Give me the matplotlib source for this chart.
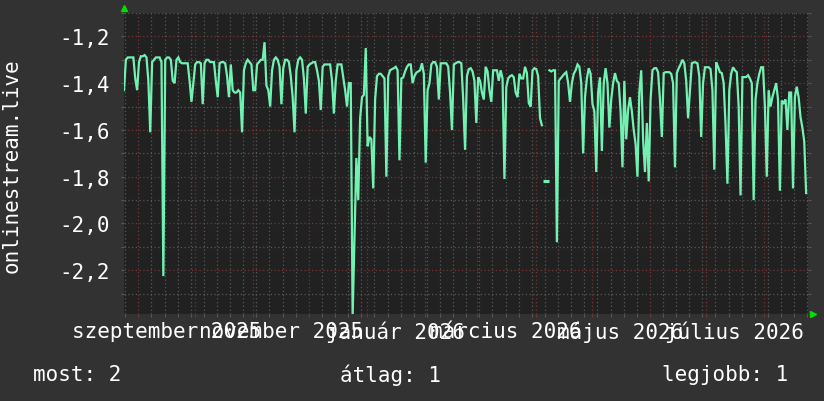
import matplotlib
matplotlib.use('Agg')
import matplotlib.pyplot as plt
import matplotlib.dates as mdates
import numpy as np
import pandas as pd

nan = np.nan

# napi értékek (onlinestream.live)
latency = [
    -1.43, -1.30, -1.29, -1.29, -1.29, -1.29, -1.38, -1.43, -1.31, -1.285,
    -1.285, -1.28, -1.29, -1.39, -1.61, -1.31, -1.30, -1.29, -1.29, -1.29,
    -1.31, -2.225, -1.30, -1.29, -1.29, -1.30, -1.39, -1.40, -1.30, -1.29,
    -1.31, -1.315, -1.315, -1.315, -1.315, -1.39, -1.48, -1.40, -1.32, -1.31,
    -1.31, -1.315, -1.49, -1.315, -1.30, -1.30, -1.31, -1.31, -1.31, -1.39,
    -1.46, -1.315, -1.31, -1.31, -1.315, -1.37, -1.46, -1.32, -1.43, -1.44,
    -1.44, -1.43, -1.44, -1.61, -1.345, -1.315, -1.30, -1.31, -1.32, -1.43,
    -1.43, -1.32, -1.31, -1.30, -1.30, -1.225, -1.41, -1.43, -1.50, -1.345,
    -1.30, -1.29, -1.30, -1.33, -1.49, -1.335, -1.30, -1.30, -1.31, -1.37,
    -1.46, -1.61, -1.345, -1.30, -1.29, -1.30, -1.38, -1.53, -1.33, -1.32,
    -1.315, -1.31, -1.31, -1.345, -1.39, -1.515, -1.33, -1.32, -1.32, -1.32,
    -1.32, -1.39, -1.53, -1.39, -1.32, -1.32, -1.32, -1.375, -1.43, -1.50,
    -1.40, -1.40, -2.40, -2.06, -1.72, -1.90, -1.55, -1.46, -1.45, -1.25,
    -1.67, -1.63, -1.64, -1.85, -1.47, -1.37, -1.36, -1.36, -1.37, -1.38,
    -1.80, -1.37, -1.345, -1.34, -1.336, -1.33, -1.345, -1.73, -1.38, -1.375,
    -1.35, -1.33, -1.32, -1.32, -1.40, -1.37, -1.355, -1.35, -1.345, -1.315,
    -1.36, -1.74, -1.43, -1.40, -1.32, -1.31, -1.31, -1.33, -1.47, -1.315,
    -1.315, -1.315, -1.315, -1.33, -1.44, -1.60, -1.32, -1.315, -1.31, -1.31,
    -1.315, -1.47, -1.685, -1.37, -1.34, -1.336, -1.35, -1.39, -1.57, -1.374,
    -1.39, -1.44, -1.47, -1.33, -1.35, -1.43, -1.48, -1.345, -1.345, -1.345,
    -1.39, -1.345, -1.38, -1.81, -1.417, -1.38, -1.37, -1.366, -1.375, -1.44,
    -1.46, -1.36, -1.38, -1.38, -1.33, -1.357, -1.485, -1.50, -1.345, -1.336,
    -1.34, -1.37, -1.55, -1.58, nan, -1.82, nan, -1.345, -1.35, -1.345,
    -1.345, -2.08, -1.39, -1.38, -1.37, -1.36, -1.353, -1.40, -1.48, -1.40,
    -1.36, -1.345, -1.32, -1.33, -1.40, -1.70, -1.46, -1.38, -1.336, -1.36,
    -1.49, -1.52, -1.78, -1.44, -1.375, -1.69, -1.40, -1.336, -1.40, -1.59,
    -1.47, -1.40, -1.357, -1.39, -1.40, -1.52, -1.76, -1.39, -1.64, -1.515,
    -1.46, -1.52, -1.60, -1.66, -1.80, -1.44, -1.345, -1.64, -1.78, -1.57,
    -1.82, -1.47, -1.345, -1.336, -1.336, -1.353, -1.47, -1.63, -1.357, -1.353,
    -1.353, -1.353, -1.36, -1.40, -1.76, -1.357, -1.336, -1.32, -1.30, -1.315,
    -1.39, -1.55, -1.43, -1.315, -1.311, -1.311, -1.315, -1.37, -1.63, -1.40,
    -1.332, -1.332, -1.332, -1.34, -1.43, -1.77, -1.311, -1.33, -1.353, -1.357,
    -1.40, -1.58, -1.83, -1.43, -1.36, -1.332, -1.345, -1.353, -1.50, -1.88,
    -1.374, -1.374, -1.374, -1.366, -1.38, -1.40, -1.90, -1.47, -1.40, -1.36,
    -1.332, -1.332, -1.50, -1.80, -1.43, -1.50, -1.46, -1.43, -1.40, -1.47,
    -1.86, -1.475, -1.485, -1.47, -1.60, -1.44, -1.44, -1.85, -1.46, -1.415,
    -1.46, -1.545, -1.59, -1.65, -1.87,
]

start = pd.Timestamp('2025-08-24 09:00')
end = pd.Timestamp('2026-08-24 09:00')
days = pd.date_range(start, periods=len(latency), freq='D')

month_labels = ['szeptember 2025', 'november 2025', 'január 2026',
                'március 2026', 'május 2026', 'július 2026']
label_dates = ['2025-09-16', '2025-11-16', '2026-01-16',
               '2026-03-16', '2026-05-16', '2026-07-16']
y_ticks = [-2.2, -2.0, -1.8, -1.6, -1.4, -1.2]
y_minor = [-2.3, -2.1, -1.9, -1.7, -1.5, -1.3, -1.1]
legend_items = [('most', 2), ('átlag', 1), ('legjobb', 1)]
legend_x = [33, 340, 662]

BG = '#323232'
PLOT_BG = '#212121'
FG = '#ffffff'
LINE = '#72f2b2'
RED = '#7a3434'
GRAY = '#585858'
ARROW = '#00e000'

plt.rcParams['font.family'] = ['DejaVu Sans Mono']
W, H = 824, 402
fig = plt.figure(figsize=(W / 100, H / 100), dpi=100, facecolor=BG)
ax = fig.add_axes([124 / W, 1 - 315 / H, 684 / W, 301 / H], facecolor=PLOT_BG)

ax.set_xlim(start, end)
ax.set_ylim(-2.387, -1.106)

ax.xaxis.set_major_locator(mdates.MonthLocator())
ax.xaxis.set_minor_locator(mdates.WeekdayLocator(byweekday=mdates.MO))
ax.xaxis.set_major_formatter(plt.NullFormatter())
ax.set_yticks(y_ticks)
ax.set_yticks(y_minor, minor=True)
ax.set_yticklabels([f'{v:.1f}'.replace('.', ',') for v in y_ticks])

ax.grid(which='minor', color=GRAY, linestyle=(0, (1, 2)), linewidth=0.9)
ax.grid(which='major', color=RED, linestyle=(0, (1, 2)), linewidth=0.9)
ax.set_axisbelow(True)

ax.tick_params(axis='both', which='both', length=2.5, width=0.8, color=GRAY,
               labelcolor=FG, labelsize=15)
ax.tick_params(axis='x', which='major', color=RED)
ax.tick_params(axis='y', which='both', right=True, pad=8)
for s in ax.spines.values():
    s.set_visible(False)

vals = np.array(latency)
ax.plot(days, vals, color=LINE, linewidth=1.6, solid_joinstyle='miter')
# egyedül álló pontok (két oldalon hiányzó adat)
prev_nan = np.r_[True, np.isnan(vals[:-1])]
next_nan = np.r_[np.isnan(vals[1:]), True]
lone = prev_nan & next_nan & ~np.isnan(vals)
ax.plot(days[lone], vals[lone], linestyle='none', marker='_',
        markersize=4, markeredgewidth=2.2, color=LINE)

for lab, d in zip(month_labels, label_dates):
    ax.text(pd.Timestamp(d), -17 / 301, lab, transform=ax.get_xaxis_transform(),
            ha='center', va='center', color=FG, fontsize=15)

ax.plot([0], [1.015], marker='^', markersize=5, color=ARROW,
        transform=ax.transAxes, clip_on=False)
ax.plot([1.007], [0], marker='>', markersize=5, color=ARROW,
        transform=ax.transAxes, clip_on=False)

fig.text(12 / W, 1 - 166 / H, 'onlinestream.live', rotation=90,
         ha='center', va='center', color=FG, fontsize=15)

for (name, val), px in zip(legend_items, legend_x):
    fig.text(px / W, 1 - 375 / H, f'{name}: {val}', ha='left', va='center',
             color=FG, fontsize=15)

fig.savefig('out.png', dpi=100, facecolor=BG)
